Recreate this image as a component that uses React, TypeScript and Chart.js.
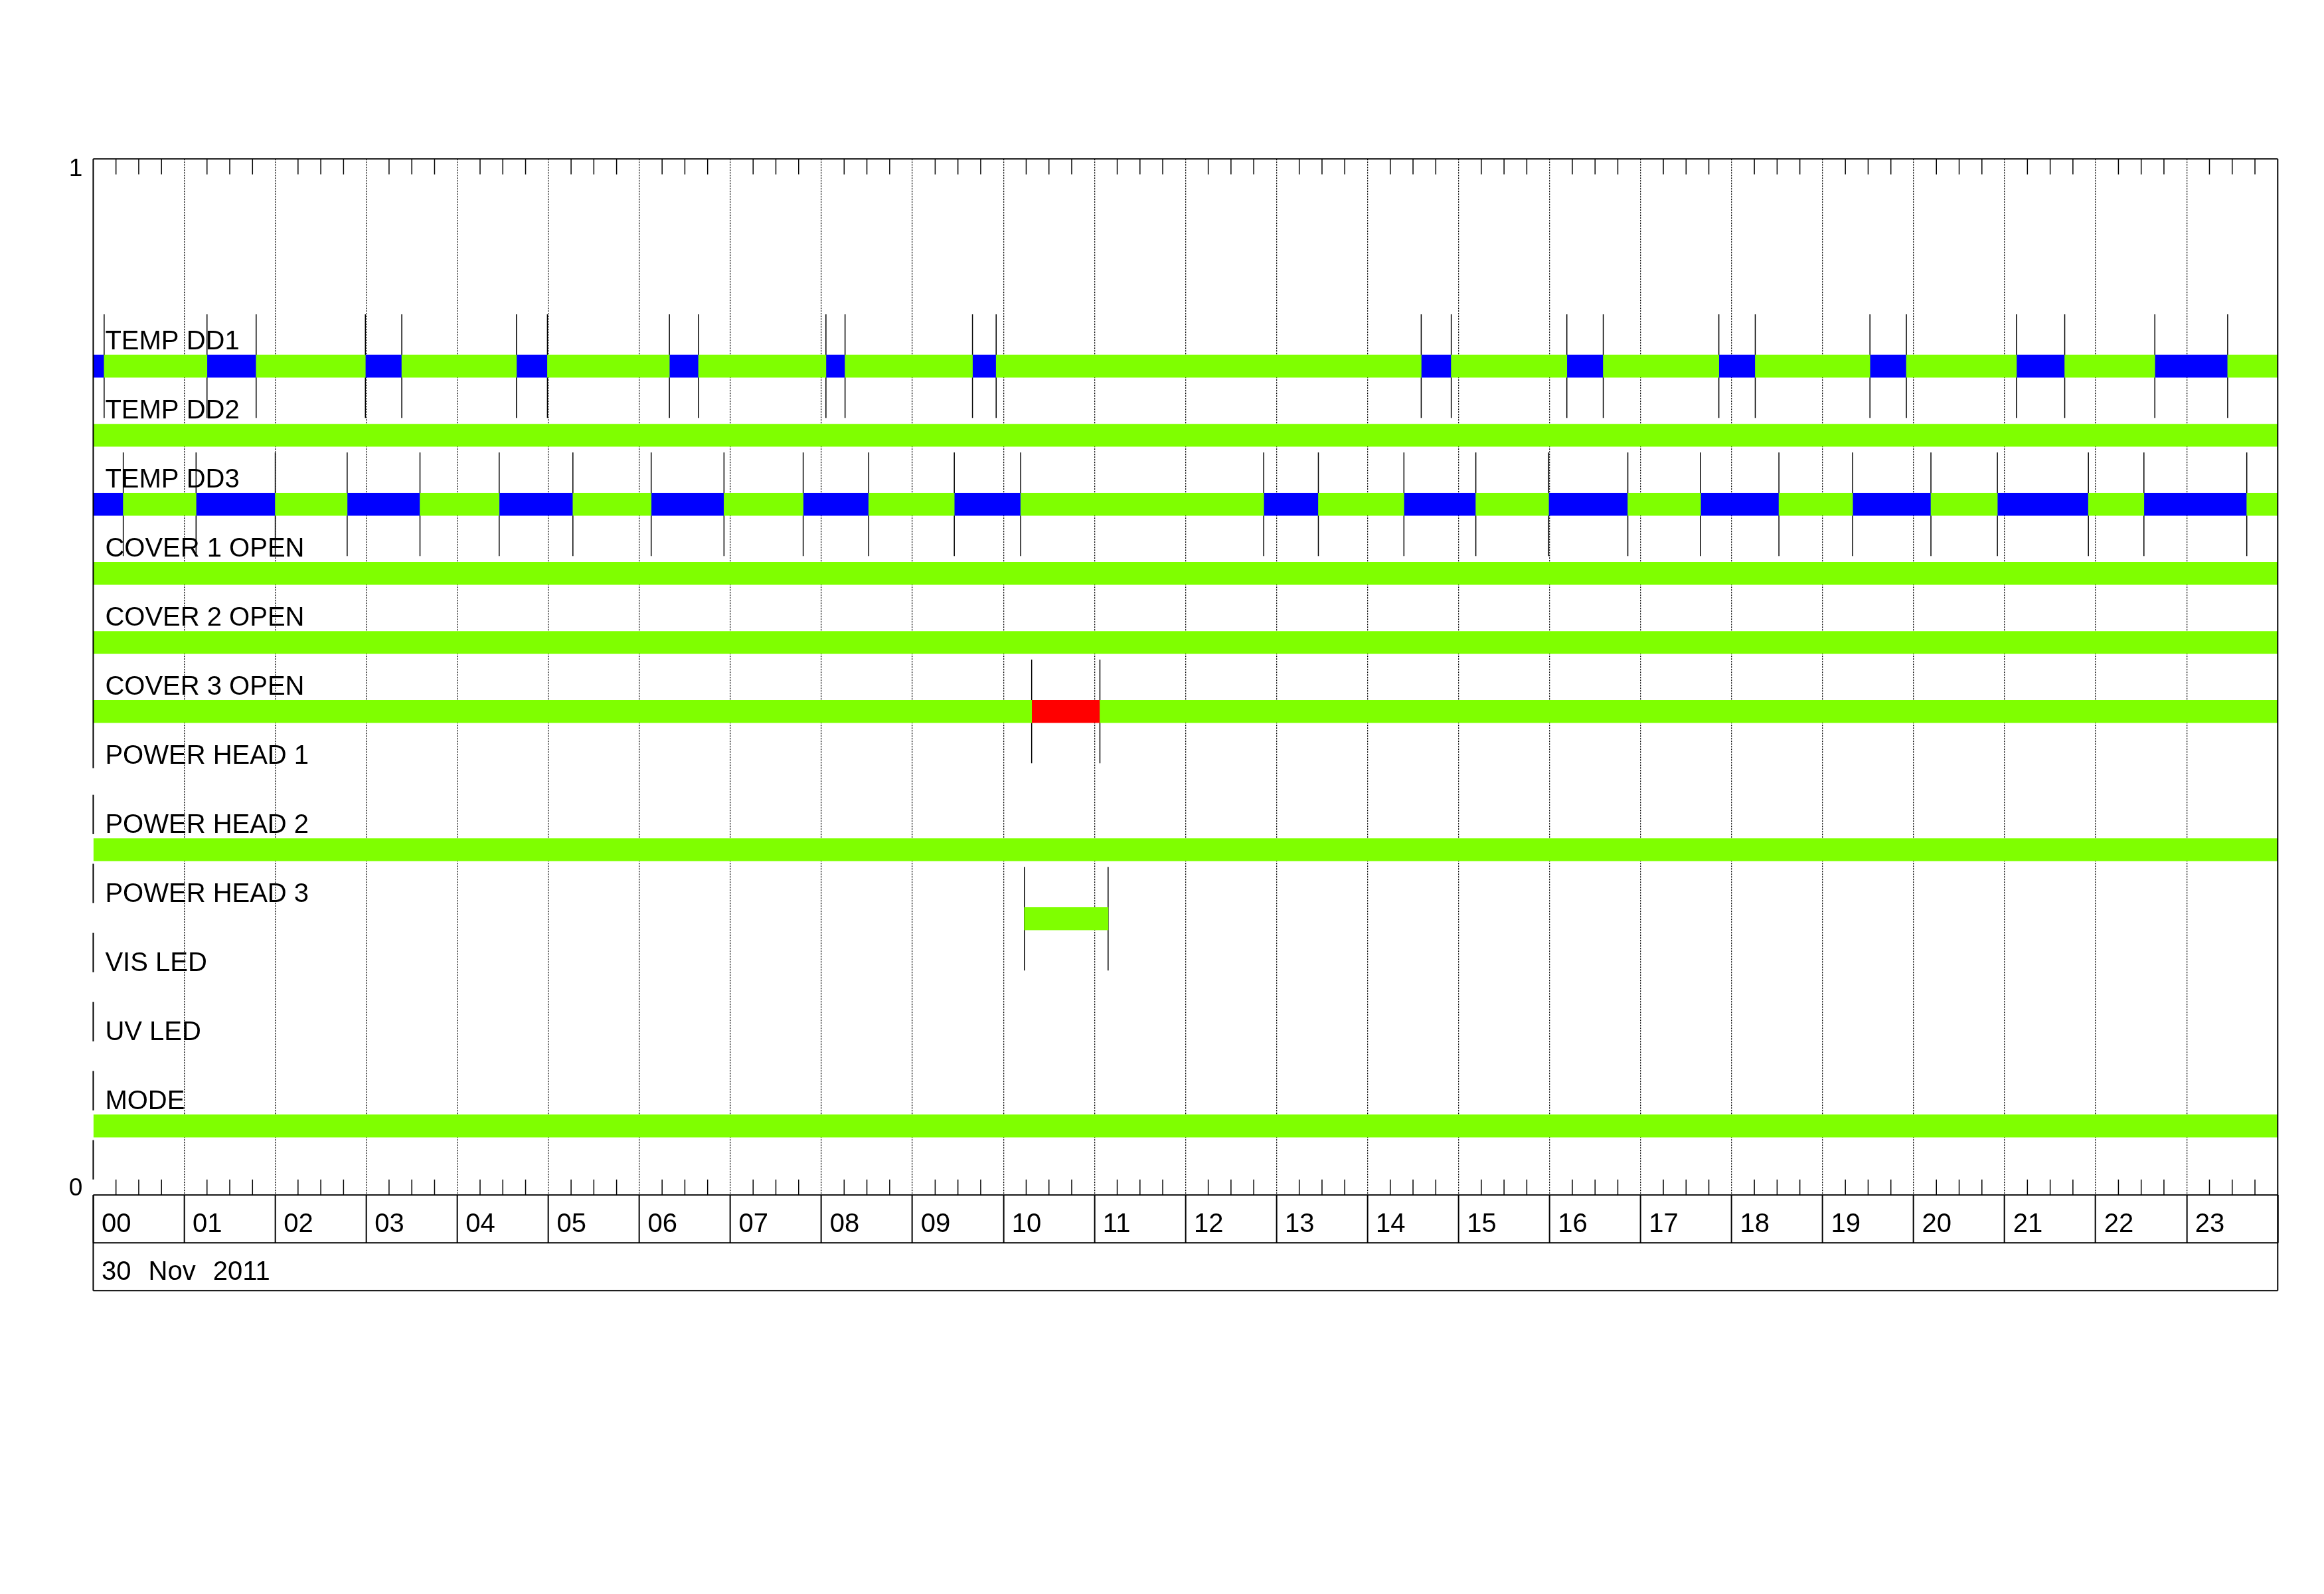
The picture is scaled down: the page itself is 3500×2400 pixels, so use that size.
import React, { useEffect, useRef } from 'react';
import { Chart, registerables } from 'chart.js';

Chart.register(...registerables);

// ---------- data ----------
const HOUR_TICKS = [0, 1, 2, 3, 4, 5, 6, 7, 8, 9, 10, 11, 12, 13, 14, 15, 16, 17, 18, 19, 20, 21, 22, 23, 24];
const HOUR_LABELS = ['00', '01', '02', '03', '04', '05', '06', '07', '08', '09', '10', '11', '12', '13', '14', '15', '16', '17', '18', '19', '20', '21', '22', '23'];
const DATE_LABEL = '30 Nov 2011';
const Y_TICKS = [0, 1];
const Y_TICK_LABELS = ['0', '1'];

const ROW_NAMES = ['TEMP DD1', 'TEMP DD2', 'TEMP DD3', 'COVER 1 OPEN', 'COVER 2 OPEN', 'COVER 3 OPEN', 'POWER HEAD 1', 'POWER HEAD 2', 'POWER HEAD 3', 'VIS LED', 'UV LED', 'MODE'];
const ROW_LEVELS = [0.8, 0.7333, 0.6667, 0.6, 0.5333, 0.4667, 0.4, 0.3333, 0.2667, 0.2, 0.1333, 0.0667];

// state segments [start hour, end hour]
const TEMP_DD1_OK = [[0.12, 1.25], [1.79, 2.99], [3.39, 4.65], [4.99, 6.33], [6.65, 8.05], [8.26, 9.66], [9.92, 14.59], [14.92, 16.19], [16.59, 17.86], [18.26, 19.52], [19.92, 21.13], [21.66, 22.65], [23.45, 24]];
const TEMP_DD1_WARN = [[0, 0.12], [1.25, 1.79], [2.99, 3.39], [4.65, 4.99], [6.33, 6.65], [8.05, 8.26], [9.66, 9.92], [14.59, 14.92], [16.19, 16.59], [17.86, 18.26], [19.52, 19.92], [21.13, 21.66], [22.65, 23.45]];
const TEMP_DD2_OK = [[0, 24]];
const TEMP_DD3_OK = [[0.33, 1.13], [2.0, 2.79], [3.59, 4.46], [5.27, 6.13], [6.93, 7.8], [8.52, 9.46], [10.19, 12.86], [13.46, 14.4], [15.19, 15.99], [16.86, 17.66], [18.52, 19.33], [20.19, 20.92], [21.92, 22.53], [23.66, 24]];
const TEMP_DD3_WARN = [[0, 0.33], [1.13, 2.0], [2.79, 3.59], [4.46, 5.27], [6.13, 6.93], [7.8, 8.52], [9.46, 10.19], [12.86, 13.46], [14.4, 15.19], [15.99, 16.86], [17.66, 18.52], [19.33, 20.19], [20.92, 21.92], [22.53, 23.66]];
const COVER1_OK = [[0, 24]];
const COVER2_OK = [[0, 24]];
const COVER3_OK = [[0, 10.31], [11.06, 24]];
const COVER3_ALARM = [[10.31, 11.06]];
const POWER1_OK: number[][] = [];
const POWER2_OK = [[0, 24]];
const POWER3_OK = [[10.23, 11.15]];
const VIS_LED_OK: number[][] = [];
const UV_LED_OK: number[][] = [];
const MODE_OK = [[0, 24]];

const OK_ROWS = [TEMP_DD1_OK, TEMP_DD2_OK, TEMP_DD3_OK, COVER1_OK, COVER2_OK, COVER3_OK, POWER1_OK, POWER2_OK, POWER3_OK, VIS_LED_OK, UV_LED_OK, MODE_OK];
const WARN_ROWS = [TEMP_DD1_WARN, [], TEMP_DD3_WARN, [], [], [], [], [], [], [], [], []];
const ALARM_ROWS = [[], [], [], [], [], COVER3_ALARM, [], [], [], [], [], []];

const GREEN = 'rgb(127,255,0)';
const BLUE = 'rgb(0,0,255)';
const RED = 'rgb(255,0,0)';
const FONT = '"Liberation Sans", Arial, sans-serif';

function toBars(rows: number[][][]) {
  const out: any[] = [];
  rows.forEach((segs, i) => segs.forEach(([a, b]) => out.push({ x: [a, b], y: ROW_LEVELS[i] })));
  return out;
}

function transitionPoints() {
  const pts: any[] = [];
  ROW_LEVELS.forEach((lvl, i) => {
    const bounds = new Set<number>();
    [OK_ROWS[i], WARN_ROWS[i], ALARM_ROWS[i]].forEach((segs) =>
      segs.forEach(([a, b]) => { bounds.add(a); bounds.add(b); }));
    Array.from(bounds).filter((t) => t > 0 && t < 24).sort((a, b) => a - b).forEach((t) => {
      pts.push({ x: t, y: lvl - 0.05 }, { x: t, y: lvl + 0.05 }, { x: t, y: null });
    });
  });
  return pts;
}

const framePlugin = {
  id: 'frame',
  afterDraw(chart: any) {
    const ctx = chart.ctx as CanvasRenderingContext2D;
    const xs = chart.scales.x, ys = chart.scales.y;
    const L = xs.getPixelForValue(0), R = xs.getPixelForValue(24);
    const T = ys.getPixelForValue(1), B = ys.getPixelForValue(0);
    const CELL = 72;
    const line = (x1: number, y1: number, x2: number, y2: number) => {
      ctx.beginPath(); ctx.moveTo(x1, y1); ctx.lineTo(x2, y2); ctx.stroke();
    };
    ctx.save();
    ctx.strokeStyle = '#000';
    ctx.lineWidth = 2;
    line(L, T, R, T);
    line(L, B, R, B);
    line(L, B + CELL, R, B + CELL);
    line(L, B + 2 * CELL, R, B + 2 * CELL);
    line(R, T, R, B + 2 * CELL);
    line(L, B, L, B + 2 * CELL);
    // left edge
    line(L, T, L, ys.getPixelForValue(ROW_LEVELS[6] + 0.012));
    [ROW_LEVELS[7], ROW_LEVELS[8], ROW_LEVELS[9], ROW_LEVELS[10], ROW_LEVELS[11], 0].forEach((v) => {
      line(L, ys.getPixelForValue(v + 0.053), L, ys.getPixelForValue(v + 0.015));
    });
    // minor ticks every 15 minutes
    ctx.lineWidth = 1.5;
    for (let h = 0; h < 24; h++) {
      for (let q = 1; q <= 3; q++) {
        const px = xs.getPixelForValue(h + q / 4);
        line(px, T, px, T + 23.3);
        line(px, B - 23.3, px, B);
      }
    }
    // texts
    ctx.fillStyle = '#000';
    ctx.textBaseline = 'alphabetic';
    ctx.textAlign = 'left';
    ctx.font = `40px ${FONT}`;
    ROW_NAMES.forEach((name, i) => {
      ctx.fillText(name, L + 18, ys.getPixelForValue(ROW_LEVELS[i]) - 25.2);
    });
    (ctx as any).wordSpacing = '15px';
    ctx.fillText(DATE_LABEL, L + 12.6, B + 127.7);
    (ctx as any).wordSpacing = '0px';
    ctx.font = `37px ${FONT}`;
    ctx.textAlign = 'center';
    Y_TICKS.forEach((v, i) => {
      const base = v === 1 ? ys.getPixelForValue(v) + 25.7 : ys.getPixelForValue(v) + 0.7;
      ctx.fillText(Y_TICK_LABELS[i], L - 26.4, base);
    });
    ctx.restore();
  },
};

export default function App() {
  const ref = useRef<HTMLCanvasElement | null>(null);
  useEffect(() => {
    document.body.style.margin = '0';
    const canvas = ref.current;
    if (!canvas) return;
    const chart = new Chart(canvas, {
      type: 'bar',
      data: {
        datasets: [
          { type: 'bar', label: 'ok', data: toBars(OK_ROWS), backgroundColor: GREEN, borderWidth: 0, barThickness: 33.7, grouped: false, order: 0, indexAxis: 'y' } as any,
          { type: 'bar', label: 'warn', data: toBars(WARN_ROWS), backgroundColor: BLUE, borderWidth: 0, barThickness: 33.7, grouped: false, order: 0, indexAxis: 'y' } as any,
          { type: 'bar', label: 'alarm', data: toBars(ALARM_ROWS), backgroundColor: RED, borderWidth: 0, barThickness: 33.7, grouped: false, order: 0, indexAxis: 'y' } as any,
          { type: 'line', label: 'transitions', data: transitionPoints(), borderColor: '#000', borderWidth: 1.5, pointRadius: 0, spanGaps: false, fill: false, order: 5, indexAxis: 'x', tension: 0 } as any,
        ],
      },
      options: {
        animation: false,
        responsive: false,
        maintainAspectRatio: false,
        devicePixelRatio: 1,
        indexAxis: 'y',
        layout: { padding: { left: 0, top: 239.3, right: 69.7, bottom: 456.7 } },
        plugins: { legend: { display: false }, tooltip: { enabled: false }, title: { display: false } },
        scales: {
          x: {
            type: 'linear', position: 'bottom', min: 0, max: 24, offset: false,
            afterBuildTicks: (axis: any) => { axis.ticks = HOUR_TICKS.map((v) => ({ value: v })); },
            afterFit: (axis: any) => { axis.height = 144; },
            ticks: {
              autoSkip: false, maxRotation: 0, minRotation: 0, align: 'start', labelOffset: 12.6, padding: -51,
              color: '#000', font: { family: FONT, size: 40 },
              callback: (value: any) => HOUR_LABELS[value] ?? '',
            },
            grid: {
              display: true, drawOnChartArea: true, drawTicks: true, tickLength: 72, offset: false, lineWidth: 1.3,
              color: (c: any) => (c.tick && (c.tick.value === 0 || c.tick.value === 24)) ? 'rgba(0,0,0,0)' : '#000',
              tickColor: '#000', tickWidth: 2, tickBorderDash: [],
            },
            border: { display: false, dash: [2, 2] },
          } as any,
          y: {
            type: 'linear', position: 'left', min: 0, max: 1, offset: false,
            afterFit: (axis: any) => { axis.width = 140.4; },
            ticks: { display: false }, grid: { display: false }, border: { display: false },
          } as any,
        },
      } as any,
      plugins: [framePlugin],
    });
    return () => chart.destroy();
  }, []);
  return (
    <canvas ref={ref} width={3500} height={2400}
      style={{ display: 'block', position: 'absolute', left: 0, top: 0, width: 3500, height: 2400, background: '#fff' }} />
  );
}
